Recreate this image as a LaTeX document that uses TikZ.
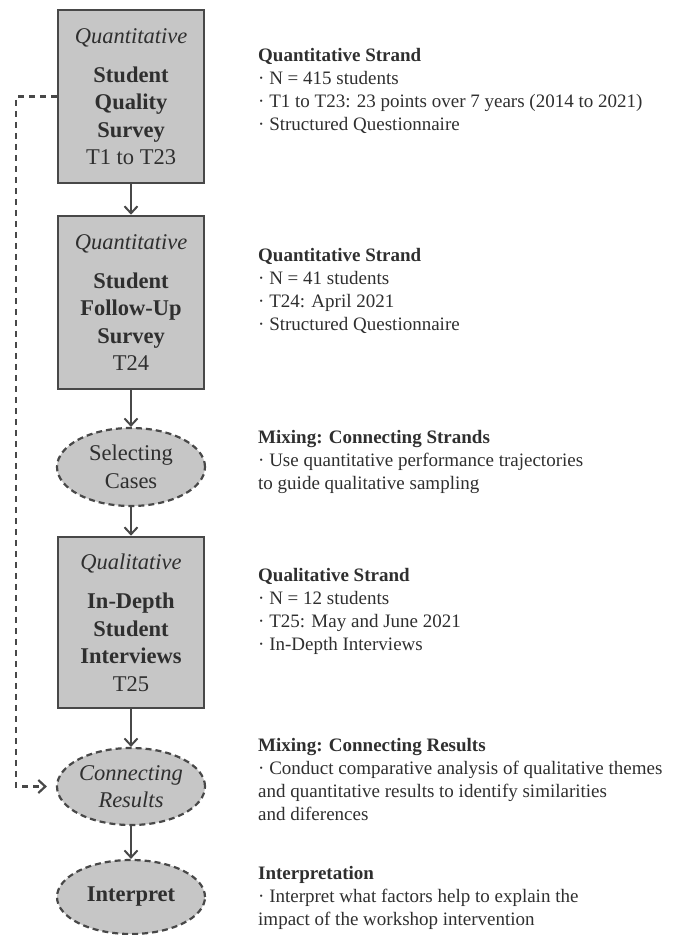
\documentclass[tikz,border=0pt]{standalone}
\usepackage{fontspec}
\setmainfont{Liberation Serif}
\usetikzlibrary{arrows.meta,shapes.geometric}
\definecolor{boxfill}{HTML}{C6C6C6}
\definecolor{edge}{HTML}{484848}
\definecolor{ink}{HTML}{2F2F2F}
\begin{document}
\begin{tikzpicture}[x=1pt,y=-1pt,
  stagebox/.style={draw=edge, line width=2.6pt, fill=boxfill, minimum width=146pt,
    minimum height=173pt, inner sep=0pt, text=ink,
    font=\fontsize{22.5}{27.5}\selectfont, align=center},
  stageell/.style={ellipse, draw=edge, line width=2.2pt, dash pattern=on 6pt off 4pt,
    fill=boxfill, minimum width=148pt, minimum height=78pt, inner sep=0pt, text=ink,
    font=\fontsize{22.5}{27.5}\selectfont, align=center},
  flow/.style={draw=edge, line width=2pt, -{Straight Barb[length=7pt,width=13pt,line width=2pt]}},
  dashflow/.style={draw=edge, line width=2.2pt, dash pattern=on 6pt off 5pt,
    -{Straight Barb[length=7pt,width=13pt,line width=2.2pt]}, shorten >=9pt},
  note/.style={anchor=base west, inner sep=0pt, text=ink,
    font=\fontsize{19}{23}\selectfont}
]
\useasboundingbox[fill=white] (0,0) rectangle (673,935);

% stages
\node[stagebox] (q1) at (131,96.5)
  {{\itshape Quantitative}\\[11.5pt]\textbf{Student}\\\textbf{Quality}\\\textbf{Survey}\\T1 to T23};
\node[stagebox] (q2) at (131,302.5)
  {{\itshape Quantitative}\\[11.5pt]\textbf{Student}\\\textbf{Follow-Up}\\\textbf{Survey}\\T24};
\node[stageell] (sc) at (131,467) {Selecting\\Cases};
\node[stagebox, minimum height=171pt] (ql) at (131,622.5)
  {{\itshape Qualitative}\\[12pt]\textbf{In-Depth}\\\textbf{Student}\\\textbf{Interviews}\\T25};
\node[stageell, minimum height=77pt] (cr) at (131,786.5) {\itshape Connecting\\\itshape Results};
\node[stageell, minimum height=74pt] (ip) at (131,897) {\textbf{Interpret}};

% connectors
\draw[flow] (q1) -- (q2);
\draw[flow] (q2) -- (sc);
\draw[flow] (sc) -- (ql);
\draw[flow] (ql) -- (cr);
\draw[flow] (cr) -- (ip);

\coordinate (lt) at (16,96.5);
\coordinate (lb) at (16,786.5);
\draw[dashflow] (q1.west) -- (lt) -- (lb) -- (cr.west);

% notes
\node[note] (n1) at (258,61.5) {\begin{tabular}[t]{@{}l@{}}
  \textbf{Quantitative Strand}\\
  · N = 415 students\\
  · T1 to T23: 23 points over 7 years (2014 to 2021)\\
  · Structured Questionnaire\end{tabular}};
\node[note] (n2) at (258,261.5) {\begin{tabular}[t]{@{}l@{}}
  \textbf{Quantitative Strand}\\
  · N = 41 students\\
  · T24: April 2021\\
  · Structured Questionnaire\end{tabular}};
\node[note] (n3) at (258,443.5) {\begin{tabular}[t]{@{}l@{}}
  \textbf{Mixing: Connecting Strands}\\
  · Use quantitative performance trajectories\\
  to guide qualitative sampling\end{tabular}};
\node[note] (n4) at (258,581.5) {\begin{tabular}[t]{@{}l@{}}
  \textbf{Qualitative Strand}\\
  · N = 12 students\\
  · T25: May and June 2021\\
  · In-Depth Interviews\end{tabular}};
\node[note] (n5) at (258,751.5) {\begin{tabular}[t]{@{}l@{}}
  \textbf{Mixing: Connecting Results}\\
  · Conduct comparative analysis of qualitative themes\\
  and quantitative results to identify similarities\\
  and diferences\end{tabular}};
\node[note] (n6) at (258,879.5) {\begin{tabular}[t]{@{}l@{}}
  \textbf{Interpretation}\\
  · Interpret what factors help to explain the\\
  impact of the workshop intervention\end{tabular}};
\end{tikzpicture}
\end{document}
